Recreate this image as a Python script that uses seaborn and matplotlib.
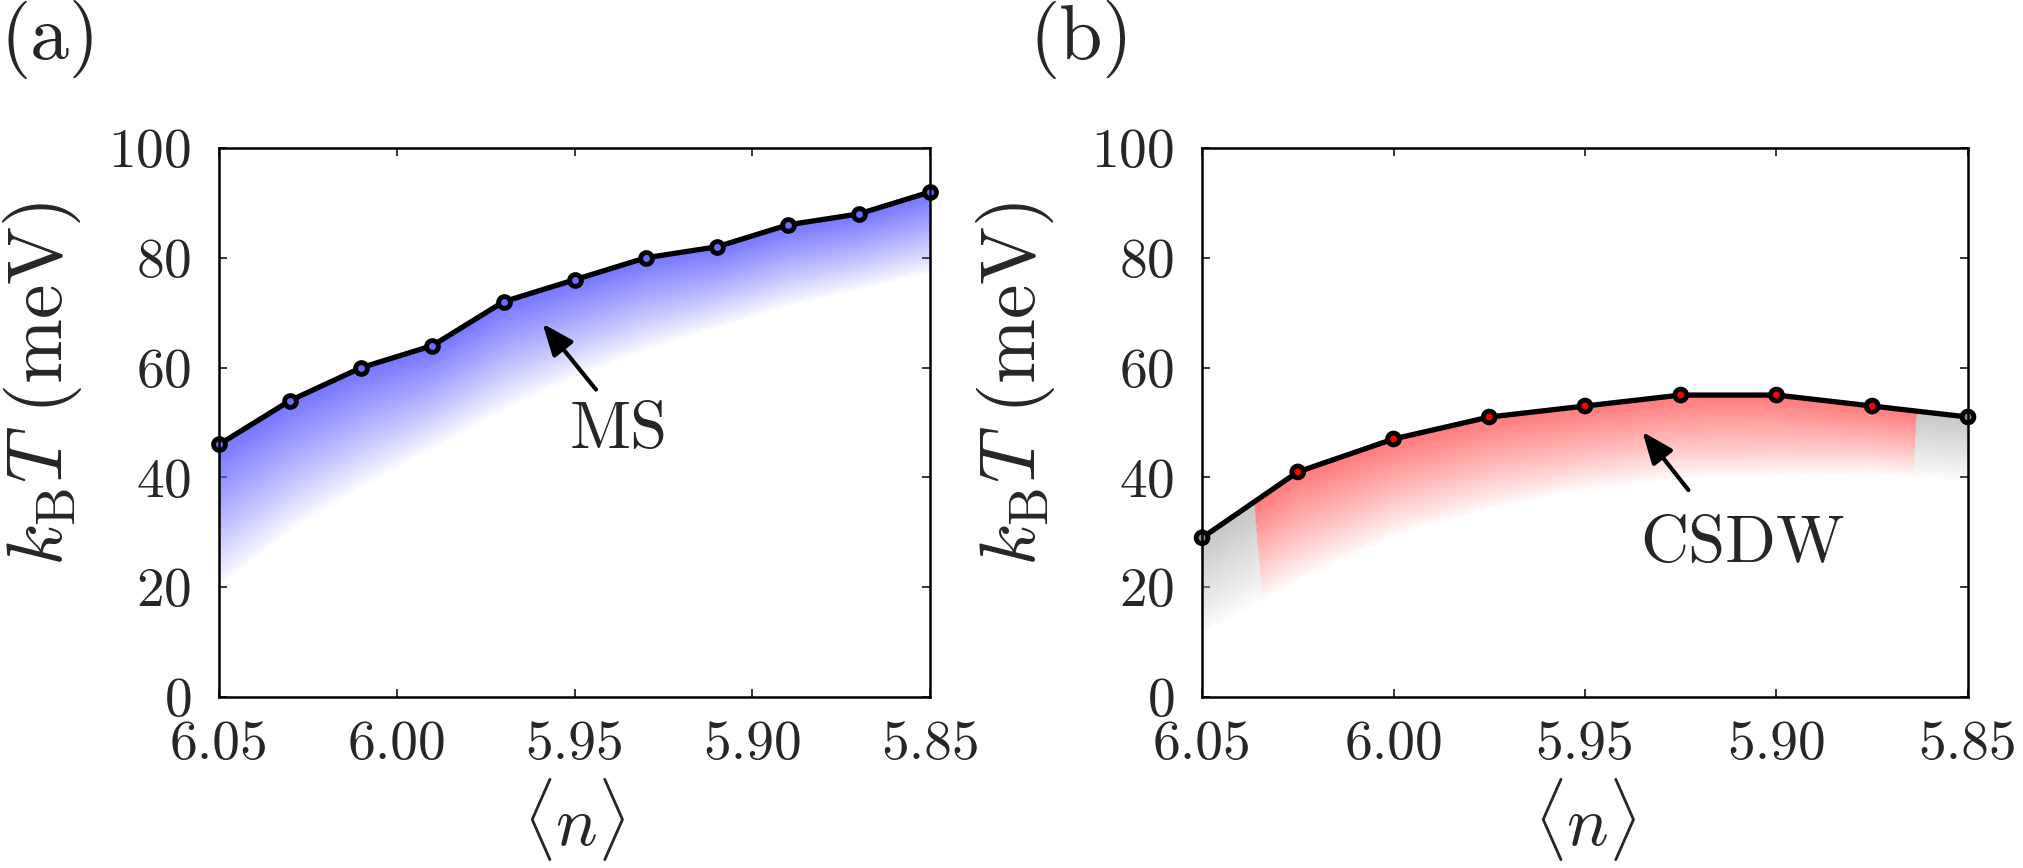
import matplotlib
matplotlib.use("Agg")
import matplotlib.pyplot as plt
import numpy as np
import pandas as pd
import seaborn as sns

# ---- data ----
n_ms = [6.05, 6.03, 6.01, 5.99, 5.97, 5.95, 5.93, 5.91, 5.89, 5.87, 5.85]
t_ms = [46, 54, 60, 64, 72, 76, 80, 82, 86, 88, 92]
floor_ms = [20, 30, 38, 45, 52, 58, 63, 67, 71, 74, 77]   # where the blue fade ends

n_csdw = [6.05, 6.025, 6.00, 5.975, 5.95, 5.925, 5.90, 5.875, 5.85]
t_csdw = [29, 41, 47, 51, 53, 55, 55, 53, 51]
floor_csdw = [11, 21, 29, 34, 37.5, 39.5, 40, 40.5, 39]
phase_csdw = ["none", "CSDW", "CSDW", "CSDW", "CSDW", "CSDW", "CSDW", "CSDW", "none"]
grey_edges = (6.037, 5.863)   # red fade only between these <n> (at the line)

xticks = [6.05, 6.00, 5.95, 5.90, 5.85]
xticklabels = ["6.05", "6.00", "5.95", "5.90", "5.85"]
yticks = [0, 20, 40, 60, 80, 100]

sns.set_theme(style="ticks")
plt.rcParams["font.family"] = ["cmr10", "DejaVu Serif"]
plt.rcParams["mathtext.fontset"] = "cm"
plt.rcParams["axes.formatter.use_mathtext"] = True
plt.rcParams["axes.unicode_minus"] = False

TICK_FS = 40
LABEL_FS = 56


def gradient(ax, xs, tops, floors, rgb, mask_fn=None, alt_rgb=None):
    W, H = 900, 700
    gx = np.linspace(6.05, 5.85, W)
    gy = np.linspace(0, 100, H)
    # xs are descending -> flip for np.interp
    top = np.interp(gx[::-1], xs[::-1], tops[::-1])[::-1]
    flo = np.interp(gx[::-1], xs[::-1], floors[::-1])[::-1]
    Y = gy[:, None]
    t = (Y - flo[None, :]) / (top - flo)[None, :]
    alpha = np.clip(t, 0, 1) ** 0.9
    alpha[Y > top[None, :]] = 0
    img = np.zeros((H, W, 4))
    img[..., 0] = rgb[0]
    img[..., 1] = rgb[1]
    img[..., 2] = rgb[2]
    if mask_fn is not None:
        m = mask_fn(gx[None, :], Y)
        for c in range(3):
            img[..., c] = np.where(m, alt_rgb[c], img[..., c])
    img[..., 3] = alpha * 0.85
    ax.imshow(img, extent=(6.05, 5.85, 0, 100), origin="lower",
              aspect="auto", interpolation="bilinear", zorder=1)


def grey_zone(gx, gy):
    # edges lean slightly inwards further down
    left = grey_edges[0] - (40 - gy) * 0.00012
    right = grey_edges[1] + (55 - gy) * 0.00008
    return (gx > left) | (gx < right)


def style(ax):
    ax.set_xlim(6.05, 5.85)
    ax.set_ylim(0, 100)
    ax.set_xticks(xticks)
    ax.set_xticklabels(xticklabels)
    ax.set_yticks(yticks)
    ax.tick_params(direction="in", length=6, width=1.3, top=True, right=True,
                   labelsize=TICK_FS)
    ax.tick_params(axis="x", pad=17)
    ax.tick_params(axis="y", pad=20)
    for s in ax.spines.values():
        s.set_linewidth(1.8)
        s.set_color("black")
        s.set_zorder(6)
    ax.set_xlabel(r"$\langle n \rangle$", fontsize=50, labelpad=4)
    ax.set_ylabel(r"$k_{\mathrm{B}}T\ \mathrm{(meV)}$", fontsize=LABEL_FS)
    ax.yaxis.set_label_coords(-0.19, 0.57)


ARROW = dict(arrowstyle="-|>,head_length=1.6,head_width=0.65",
             color="black", lw=3.0, shrinkA=0, shrinkB=0)

fig = plt.figure(figsize=(20.23, 8.68), dpi=100)
ax_a = fig.add_axes([0.1083, 0.197, 0.3515, 0.6325])
ax_b = fig.add_axes([0.5942, 0.197, 0.3786, 0.6325])

# ---- (a) MS ----
df_a = pd.DataFrame({"n": n_ms, "T": t_ms})
gradient(ax_a, np.array(n_ms), np.array(t_ms, float), np.array(floor_ms, float),
         (0.36, 0.36, 1.0))
sns.lineplot(data=df_a, x="n", y="T", ax=ax_a, color="black", lw=3.8,
             marker="o", markersize=8.5, markerfacecolor="#6a6aff",
             markeredgecolor="black", markeredgewidth=3.5,
             clip_on=False, zorder=5, sort=False)
style(ax_a)
ax_a.annotate("", xy=(5.959, 68.0), xytext=(5.944, 56.0),
              arrowprops=ARROW, zorder=7)
ax_a.text(5.9375, 48.5, "MS", fontsize=48, ha="center", va="center", zorder=7)

# ---- (b) CSDW ----
df_b = pd.DataFrame({"n": n_csdw, "T": t_csdw, "phase": phase_csdw})
gradient(ax_b, np.array(n_csdw), np.array(t_csdw, float), np.array(floor_csdw, float),
         (1.0, 0.38, 0.38), mask_fn=grey_zone, alt_rgb=(0.74, 0.74, 0.74))
sns.lineplot(data=df_b, x="n", y="T", ax=ax_b, color="black", lw=3.8,
             clip_on=False, zorder=4, sort=False)
sns.scatterplot(data=df_b, x="n", y="T", hue="phase", ax=ax_b,
                palette={"CSDW": "#ff0000", "none": "#8c8c8c"},
                s=72, edgecolor="black", linewidth=3.5, legend=False,
                clip_on=False, zorder=5)
style(ax_b)
ax_b.annotate("", xy=(5.935, 48.3), xytext=(5.923, 37.7),
              arrowprops=ARROW, zorder=7)
ax_b.text(5.909, 27.7, "CSDW", fontsize=48, ha="center", va="center", zorder=7)

fig.text(0.0, 1.0, "(a)", fontsize=56, ha="left", va="top")
fig.text(0.509, 1.0, "(b)", fontsize=56, ha="left", va="top")

fig.savefig("out.png", dpi=100)
